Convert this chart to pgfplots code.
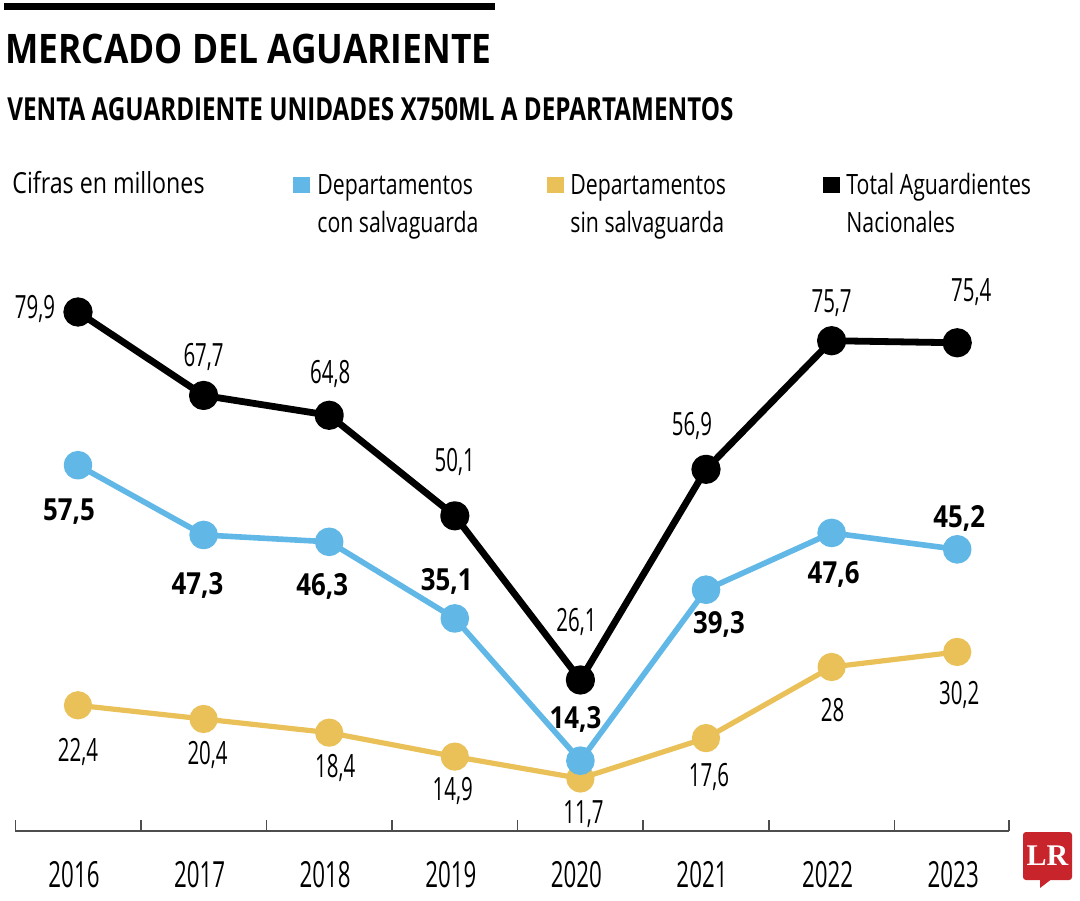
\documentclass[border=0pt]{standalone}
\usepackage{graphicx}
\usepackage{pgfplots}
\usepackage{pgfplotstable}
\pgfplotsset{compat=1.18}
\usepackage{fontspec}
\setmainfont{Open Sans}
\newfontfamily\labfont{Open Sans}[FakeStretch=0.64]
\newfontfamily\boldfont{Open Sans}[FakeStretch=0.85]
\newfontfamily\yrfont{Open Sans}[FakeStretch=0.62]
\newfontfamily\legfont{Open Sans}[FakeStretch=0.76]
\newfontfamily\cifont{Open Sans}[FakeStretch=0.8]
\newfontfamily\lrfont{Liberation Serif}
\definecolor{cblue}{HTML}{61B7E6}
\definecolor{cyel}{HTML}{EAC158}
\definecolor{lrred}{HTML}{C8242B}
\definecolor{axgray}{HTML}{4D4D4D}

\pgfplotstableread{
x y lab dx dy
0 79.9 79,9 -21.5 -3.5
1 67.7 67,7 0 14.5
2 64.8 64,8 0.5 16
3 50.1 50,1 0 22
4 26.1 26,1 -2 24
5 56.9 56,9 -7 17
6 75.7 75,7 0 14
7 75.4 75,4 7 20.5
}\totaltab

\pgfplotstableread{
x y lab dx dy
0 57.5 57,5 -4.5 -27.5
1 47.3 47,3 -3 -30
2 46.3 46,3 -3.5 -27
3 35.1 35,1 -4 14
4 14.3 14,3 -2.5 16
5 39.3 39,3 6.5 -22
6 47.6 47,6 1 -25.5
7 45.2 45,2 1 11
}\contab

\pgfplotstableread{
x y lab dx dy
0 22.4 22,4 0 -28
1 20.4 20,4 2 -23
2 18.4 18,4 3 -22.5
3 14.9 14,9 -1 -22
4 11.7 11,7 1.5 -22.5
5 17.6 17,6 1.5 -24
6 28 28 0.5 -27.5
7 30.2 30,2 1 -26.5
}\sintab

\begin{document}
\begin{tikzpicture}
\path[use as bounding box] (0pt,0pt) rectangle (540pt,-450pt);

% top bar and titles
\fill[black] (2pt,-1.5pt) rectangle (247.5pt,-5pt);
\node[anchor=base west, inner sep=0pt] at (2.5pt,-31.5pt)
  {\resizebox{243pt}{14.75pt}{\bfseries MERCADO DEL AGUARIENTE}};
\node[anchor=base west, inner sep=0pt] at (3.5pt,-60pt)
  {\resizebox{363pt}{11.5pt}{\bfseries VENTA AGUARDIENTE UNIDADES X750ML A DEPARTAMENTOS}};

% legend row
\node[anchor=base west, inner sep=0pt, font=\cifont\fontsize{14.5}{14.5}\selectfont] at (6pt,-96.5pt) {Cifras en millones};
\begin{scope}[every node/.style={anchor=base west, inner sep=0pt, font=\legfont\fontsize{14}{14}\selectfont}]
\fill[cblue] (146.5pt,-88.5pt) rectangle (155pt,-96.5pt);
\node at (158.5pt,-97pt) {Departamentos};
\node at (158.5pt,-116pt) {con salvaguarda};
\fill[cyel] (273.5pt,-88.5pt) rectangle (282pt,-96.5pt);
\node at (285pt,-97pt) {Departamentos};
\node at (285pt,-116pt) {sin salvaguarda};
\fill[black] (411.5pt,-88.5pt) rectangle (420pt,-96.5pt);
\node at (423pt,-97pt) {Total Aguardientes};
\node at (423pt,-116pt) {Nacionales};
\end{scope}

\begin{axis}[
  at={(7.75pt,-415.5pt)}, anchor=south west,
  scale only axis, width=496.75pt, height=285.5pt,
  xmin=-0.4976, xmax=7.4124, ymin=4.02, ymax=87.5,
  axis x line=bottom, axis y line=none,
  axis line style={-, draw=axgray, line width=0.75pt},
  xtick={0,1,2,3,4,5,6,7},
  xticklabels={2016,2017,2018,2019,2020,2021,2022,2023},
  major tick length=0pt,
  xticklabel style={font=\yrfont\fontsize{18}{18}\selectfont, anchor=base, yshift=-28pt, xshift=-2pt, text=black},
  extra x ticks={-0.4976,0.5,1.5,2.5,3.5,4.5,5.5,6.5,7.4124},
  extra x tick labels={},
  extra x tick style={major tick length=5.5pt, tick align=inside, tick style={draw=axgray, line width=0.75pt}},
  clip=false,
  point meta=explicit symbolic,
  nodes near coords,
  visualization depends on={\thisrow{dx}\as\dx},
  visualization depends on={\thisrow{dy}\as\dy},
  every node near coord/.append style={anchor=base, xshift=\dx pt, yshift=\dy pt, inner sep=0pt, text=black},
]
\addplot[cyel, line width=2.6pt, line join=round, mark=*, mark size=5.75pt,
  mark options={fill=cyel, draw=none},
  every node near coord/.append style={font=\labfont\fontsize{16}{16}\selectfont}]
  table[x=x, y=y, meta=lab]{\sintab};
\addplot[cblue, line width=2.8pt, line join=round, mark=*, mark size=5.75pt,
  mark options={fill=cblue, draw=none},
  every node near coord/.append style={font=\boldfont\fontsize{15.2}{15}\bfseries}]
  table[x=x, y=y, meta=lab]{\contab};
\addplot[black, line width=3.4pt, line join=round, mark=*, mark size=5.6pt,
  mark options={fill=black, draw=none},
  every node near coord/.append style={font=\labfont\fontsize{16}{16}\selectfont}]
  table[x=x, y=y, meta=lab]{\totaltab};
\end{axis}

% LR logo
\fill[lrred, rounded corners=1.5pt] (511.5pt,-416pt) rectangle (536pt,-440pt);
\fill[lrred] (520pt,-439pt) -- (520pt,-444pt) -- (526.5pt,-439pt) -- cycle;
\node[text=white, inner sep=0pt, font=\lrfont\bfseries\fontsize{15}{15}\selectfont] at (523.75pt,-428pt) {LR};
\end{tikzpicture}
\end{document}
